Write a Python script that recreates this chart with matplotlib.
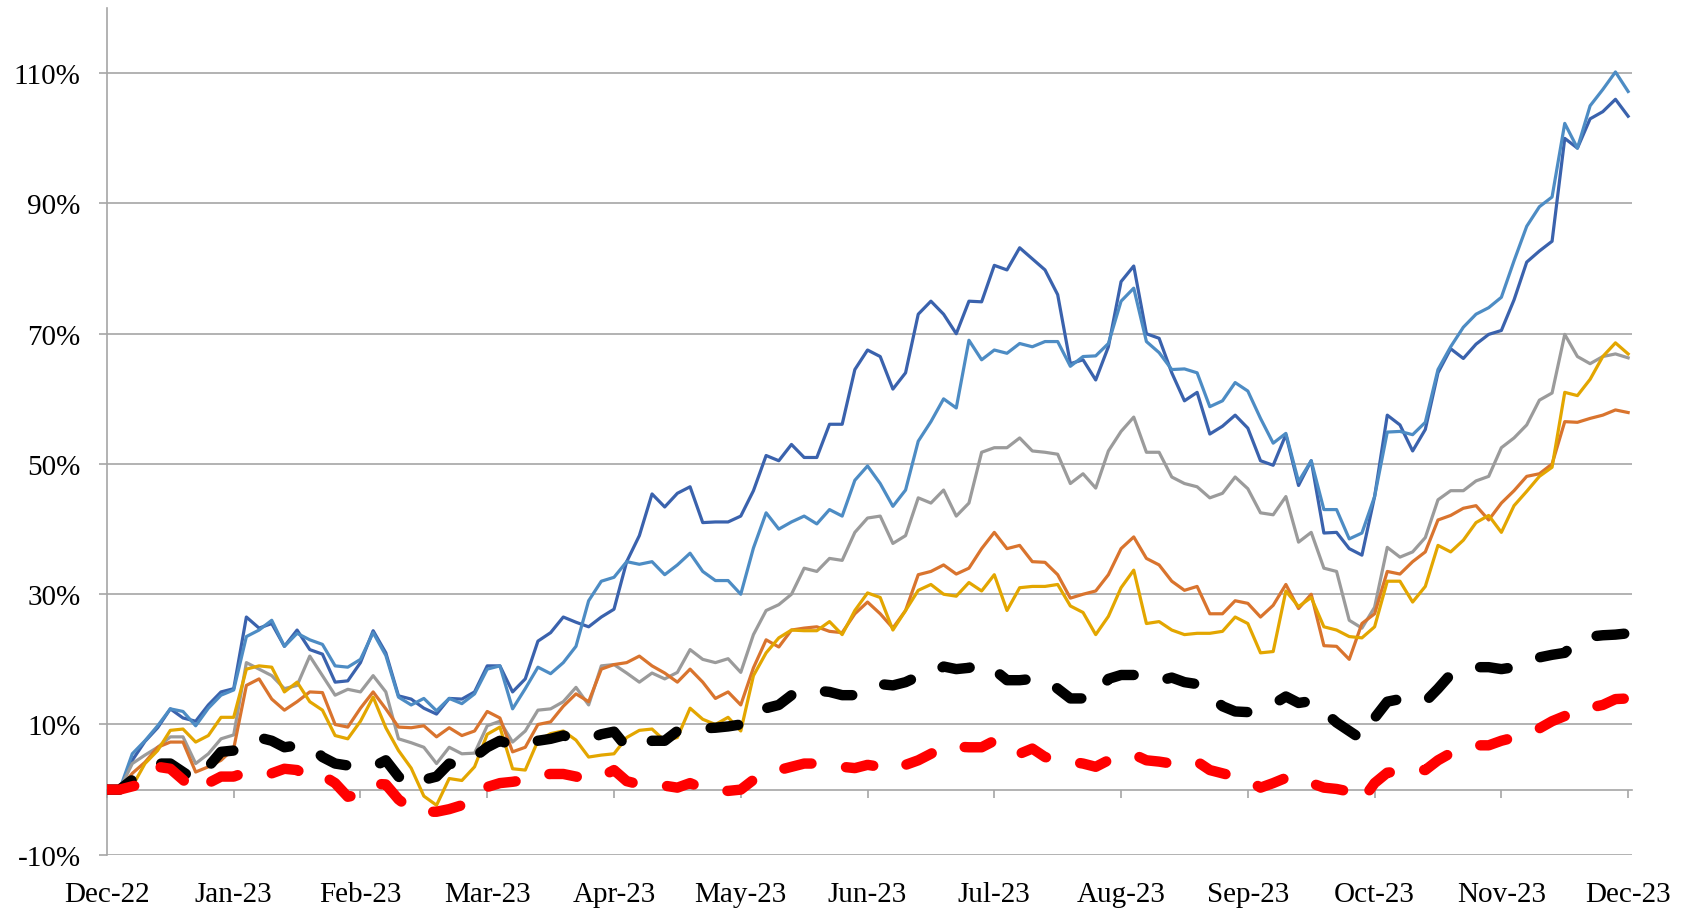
import numpy as np
import matplotlib
matplotlib.use("Agg")
import matplotlib.pyplot as plt

plt.rcParams['font.family'] = ['Liberation Serif', 'DejaVu Serif']
plt.rcParams['lines.scale_dashes'] = False

# x positions in months since Dec-22, 0.1 month steps
months = ['Dec-22', 'Jan-23', 'Feb-23', 'Mar-23', 'Apr-23', 'May-23', 'Jun-23',
          'Jul-23', 'Aug-23', 'Sep-23', 'Oct-23', 'Nov-23', 'Dec-23']
t = np.arange(121) / 10.0

# cumulative returns (%)
dark_blue = [0, 0, 4.5, 7.4, 9.5, 12.4, 11.0, 10.5, 13.0, 15.0, 15.5, 26.5, 24.8, 25.5, 22.0, 24.5, 21.5, 20.8, 16.5, 16.7, 19.5,
             24.4, 21.0, 14.4, 13.9, 12.5, 11.6, 14.0, 13.9, 15.0, 19.0, 19.0, 15.0, 17.0, 22.8, 24.1, 26.5, 25.7, 25.0, 26.5, 27.7,
             35.0, 39.0, 45.4, 43.4, 45.5, 46.5, 41.0, 41.1, 41.1, 42.0, 45.9, 51.3, 50.5, 53.0, 51.0, 51.0, 56.1, 56.1, 64.5, 67.5,
             66.5, 61.5, 64.0, 73.0, 75.0, 73.0, 70.0, 75.0, 74.9, 80.5, 79.8, 83.2, 81.5, 79.8, 76.0, 65.4, 66.0, 62.9, 68.0, 78.0,
             80.4, 70.0, 69.3, 64.0, 59.7, 61.0, 54.6, 55.8, 57.5, 55.5, 50.5, 49.8, 54.5, 46.7, 50.5, 39.4, 39.5, 37.0, 36.0, 45.0,
             57.5, 56.0, 52.0, 55.3, 64.0, 67.7, 66.2, 68.4, 69.9, 70.5, 75.2, 81.0, 82.7, 84.2, 100.0, 98.5, 103.0, 104.1, 106.0, 103.4]
light_blue = [0, 0, 5.5, 7.5, 9.8, 12.4, 12.0, 9.8, 12.5, 14.5, 15.3, 23.5, 24.5, 26.0, 22.0, 24.0, 23.0, 22.3, 19.0, 18.8, 20.0,
              24.1, 20.6, 14.2, 13.0, 14.0, 12.1, 14.0, 13.2, 14.7, 18.5, 19.0, 12.4, 15.5, 18.8, 17.8, 19.5, 22.0, 29.0, 32.0, 32.6,
              35.0, 34.6, 35.0, 33.0, 34.5, 36.3, 33.5, 32.1, 32.1, 30.0, 37.1, 42.5, 40.0, 41.1, 42.0, 40.8, 43.0, 42.0, 47.5, 49.7,
              47.0, 43.5, 46.0, 53.5, 56.5, 60.0, 58.6, 69.0, 66.0, 67.5, 67.0, 68.5, 68.0, 68.8, 68.8, 65.0, 66.5, 66.6, 68.5, 75.0,
              77.0, 68.8, 67.1, 64.5, 64.6, 64.0, 58.8, 59.7, 62.5, 61.2, 57.0, 53.2, 54.7, 47.3, 50.5, 43.0, 43.0, 38.5, 39.4, 45.0,
              54.9, 55.0, 54.5, 56.4, 64.5, 68.0, 71.0, 73.0, 74.0, 75.6, 81.2, 86.5, 89.5, 91.0, 102.3, 98.5, 105.0, 107.5, 110.2, 107.2]
gray = [0, 0, 4.0, 5.3, 6.5, 8.1, 8.1, 4.0, 5.5, 7.8, 8.4, 19.5, 18.5, 17.5, 15.5, 16.0, 20.5, 17.5, 14.5, 15.4, 15.0,
        17.5, 15.0, 7.8, 7.2, 6.5, 4.0, 6.5, 5.5, 5.6, 9.8, 10.5, 7.3, 9.0, 12.2, 12.4, 13.5, 15.7, 13.0, 19.0, 19.2,
        17.9, 16.5, 17.9, 17.0, 18.0, 21.5, 20.0, 19.5, 20.1, 18.0, 23.8, 27.5, 28.4, 30.0, 34.0, 33.5, 35.5, 35.2, 39.5, 41.7,
        42.0, 37.8, 39.0, 44.8, 44.0, 46.0, 42.0, 44.0, 51.8, 52.5, 52.5, 54.0, 52.0, 51.8, 51.5, 47.0, 48.5, 46.3, 52.0, 55.0,
        57.2, 51.8, 51.8, 48.0, 47.0, 46.5, 44.8, 45.5, 48.0, 46.2, 42.5, 42.2, 45.0, 38.0, 39.5, 34.0, 33.5, 26.0, 24.8, 28.0,
        37.2, 35.7, 36.5, 38.7, 44.5, 45.9, 45.9, 47.4, 48.1, 52.5, 54.0, 56.0, 59.8, 60.9, 69.9, 66.5, 65.4, 66.5, 66.9, 66.3]
orange = [0, 0, 2.5, 4.2, 6.5, 7.3, 7.3, 2.7, 3.5, 4.5, 6.3, 16.0, 17.0, 13.9, 12.2, 13.5, 15.0, 14.9, 10.0, 9.6, 12.5,
          15.0, 12.4, 9.6, 9.5, 9.8, 8.1, 9.5, 8.3, 9.0, 12.0, 11.0, 5.8, 6.5, 10.0, 10.4, 12.8, 14.7, 13.5, 18.5, 19.2,
          19.5, 20.5, 19.0, 17.9, 16.5, 18.5, 16.5, 14.0, 15.0, 13.0, 18.7, 23.0, 21.9, 24.5, 24.8, 25.0, 24.3, 24.1, 27.0, 28.8,
          27.0, 24.8, 27.5, 33.0, 33.5, 34.5, 33.1, 34.0, 37.0, 39.5, 37.0, 37.5, 35.0, 34.9, 33.0, 29.4, 30.0, 30.5, 33.0, 37.0,
          38.8, 35.5, 34.5, 32.0, 30.6, 31.2, 27.0, 27.0, 29.0, 28.6, 26.5, 28.3, 31.5, 27.8, 30.0, 22.1, 22.0, 20.0, 25.5, 27.0,
          33.5, 33.1, 35.0, 36.5, 41.4, 42.1, 43.2, 43.6, 41.4, 44.0, 45.9, 48.1, 48.5, 50.0, 56.5, 56.4, 57.0, 57.5, 58.3, 57.9]
yellow = [0, 0, 0.5, 4.0, 6.0, 9.1, 9.3, 7.3, 8.3, 11.1, 11.1, 18.5, 19.0, 18.8, 15.0, 16.5, 13.5, 12.2, 8.3, 7.8, 10.5,
          14.2, 9.5, 6.0, 3.3, -1.0, -2.4, 1.7, 1.4, 3.5, 8.5, 9.6, 3.2, 3.0, 7.5, 8.6, 9.0, 7.6, 5.0, 5.3, 5.5,
          8.0, 9.1, 9.3, 7.5, 8.0, 12.5, 10.8, 10.0, 11.1, 9.0, 17.5, 21.0, 23.3, 24.5, 24.4, 24.4, 25.8, 23.8, 27.5, 30.2,
          29.5, 24.5, 27.5, 30.6, 31.5, 30.0, 29.7, 31.8, 30.5, 33.0, 27.5, 31.0, 31.2, 31.2, 31.5, 28.2, 27.2, 23.8, 26.6, 31.0,
          33.7, 25.5, 25.8, 24.5, 23.8, 24.0, 24.0, 24.3, 26.5, 25.5, 21.0, 21.2, 30.5, 28.1, 29.5, 25.0, 24.5, 23.5, 23.3, 25.0,
          32.0, 32.0, 28.8, 31.2, 37.5, 36.5, 38.3, 41.0, 42.1, 39.5, 43.6, 45.8, 48.1, 49.5, 61.0, 60.5, 63.0, 66.5, 68.6, 66.9]
black = [0, 0, 1.5, 3.0, 4.0, 4.0, 2.7, 1.4, 3.5, 5.8, 6.0, 6.5, 8.0, 7.5, 6.5, 6.8, 6.8, 5.0, 4.0, 3.7, 3.6,
         3.5, 4.5, 2.0, 0.5, 1.5, 2.0, 4.0, 3.5, 5.0, 6.5, 7.5, 6.8, 6.8, 7.5, 7.8, 8.3, 7.8, 7.8, 8.5, 8.9,
         6.5, 6.5, 7.5, 7.5, 9.0, 9.4, 9.4, 9.5, 9.7, 10.0, 11.9, 12.5, 13.0, 14.5, 15.3, 15.2, 15.0, 14.5, 14.5, 15.8,
         16.2, 16.0, 16.5, 17.4, 17.6, 18.9, 18.5, 18.7, 19.5, 18.4, 16.8, 16.8, 17.0, 17.0, 15.5, 14.0, 14.0, 14.2, 17.0, 17.6,
         17.6, 17.2, 16.7, 17.2, 16.5, 16.2, 14.5, 12.8, 12.0, 11.9, 12.5, 13.1, 14.3, 13.3, 13.6, 12.0, 10.3, 9.0, 7.7, 11.0,
         13.5, 13.9, 13.8, 13.5, 15.5, 17.7, 18.0, 18.8, 18.8, 18.5, 18.8, 19.9, 20.3, 20.7, 21.0, 22.9, 23.5, 23.7, 23.8, 24.0]
red = [0, 0, 0.5, 1.0, 3.5, 3.2, 1.5, -0.3, 1.0, 2.0, 2.0, 2.7, 2.7, 2.5, 3.2, 3.0, 1.8, 2.2, 1.0, -1.1, -0.7,
       0.9, 0.8, -1.5, -3.0, -3.4, -3.4, -3.0, -2.4, -1.5, 0.4, 1.0, 1.2, 1.5, 2.2, 2.4, 2.4, 2.0, 1.5, 2.0, 3.0,
       1.3, 0.8, 0.6, 0.6, 0.3, 1.0, 0.2, 0.0, -0.2, 0.0, 1.5, 2.5, 3.0, 3.5, 4.0, 4.0, 3.8, 3.5, 3.3, 3.8,
       3.5, 3.0, 3.8, 4.5, 5.5, 6.6, 6.6, 6.5, 6.5, 7.5, 6.0, 5.5, 6.3, 5.0, 4.5, 4.3, 4.0, 3.5, 4.5, 5.0,
       5.4, 4.5, 4.3, 4.0, 4.0, 4.3, 3.0, 2.5, 2.0, 1.5, 0.3, 1.0, 1.8, 2.0, 1.0, 0.3, 0.1, -0.3, -1.7, 1.0,
       2.6, 2.8, 3.2, 3.0, 4.5, 5.6, 6.2, 6.8, 6.8, 7.5, 8.0, 8.6, 9.4, 10.5, 11.3, 12.4, 12.6, 13.0, 13.9, 14.0]

y_ticks = [-10, 10, 30, 50, 70, 90, 110]

fig = plt.figure(figsize=(16.92, 9.12), dpi=100)
ax = fig.add_axes([0.0632, 0.0617, 0.9013, 0.9283])

solid = [(dark_blue, '#3a62ad'), (light_blue, '#4d8cc4'), (gray, '#9b9b9b'),
         (orange, '#d9742e'), (yellow, '#e3a600')]
for vals, col in solid:
    ax.plot(t, vals, color=col, lw=2.3, solid_joinstyle='round', zorder=3)

# benchmark series: thick round-capped dashes
for vals, col in [(black, 'black'), (red, '#ff0000')]:
    ax.plot(t, vals, color=col, lw=7.5, dashes=(20, 25), dash_capstyle='round',
            dash_joinstyle='round', zorder=4)

ax.set_xlim(0, 12.03)
ax.set_ylim(-10, 120)
ax.set_yticks(y_ticks)
ax.set_yticklabels([f'{v}%' for v in y_ticks])
ax.yaxis.grid(True, color='#a6a6a6', lw=1.2)
ax.set_axisbelow(True)

# horizontal axis crosses at 0, labels kept at the bottom
ax.spines['bottom'].set_position(('data', 0))
ax.spines['bottom'].set_color('#a6a6a6')
ax.spines['bottom'].set_linewidth(1.2)
ax.spines['left'].set_color('#a6a6a6')
ax.spines['left'].set_linewidth(1.2)
ax.spines['top'].set_visible(False)
ax.spines['right'].set_visible(False)

ax.set_xticks(np.arange(13))
ax.set_xticklabels(months)
ax.tick_params(axis='x', direction='out', length=6, width=1.2, color='#a6a6a6',
               labelsize=21, pad=60)
ax.tick_params(axis='y', direction='out', length=6, width=1.2, color='#a6a6a6',
               labelsize=21, pad=13)

fig.savefig('out.png', dpi=100)
